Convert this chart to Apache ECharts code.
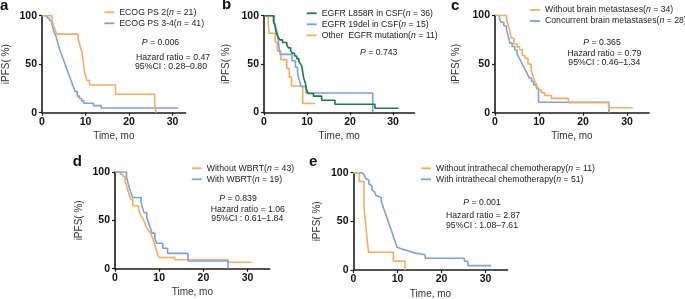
<!DOCTYPE html>
<html><head><meta charset="utf-8">
<script src="https://cdn.jsdelivr.net/npm/echarts@6/dist/echarts.min.js"></script>
<style>html,body{margin:0;padding:0;background:#fff}#c{width:685px;height:299px}</style>
</head><body><div id="c"></div>
<script>
// ---------- data (months, % iPFS) ----------
const xTicks = [0, 10, 20, 30];
const yTicks = [0, 50, 100];

// panel a
const aPs2T = [0, 2.3, 2.6, 3.0, 3.4, 8.3, 8.6, 8.9, 9.2, 9.5, 9.7, 10.0, 10.3, 10.9, 16.9, 25.9, 26.2];
const aPs2S = [100, 95.2, 90.5, 85.7, 81.0, 76.2, 71.4, 66.7, 61.9, 52.4, 42.9, 38.1, 33.3, 28.6, 19.0, 9.5, 0];
const aPs34T = [0, 1.2, 1.7, 2.2, 2.5, 2.8, 3.1, 3.4, 3.7, 4.0, 4.4, 4.8, 5.2, 5.6, 6.0, 6.4, 6.8, 7.2, 7.6, 8.1, 8.6, 9.1, 9.6, 11.8, 13.6, 31.3];
const aPs34S = [100, 97.6, 95.1, 92.7, 87.8, 82.9, 80.5, 75.6, 70.7, 65.9, 61.0, 56.1, 51.2, 46.3, 41.5, 36.6, 31.7, 26.8, 22.0, 17.1, 14.6, 12.2, 9.8, 7.3, 4.9, 4.9];

// panel b
const bL858T = [0, 2.2, 2.4, 2.6, 2.8, 3.0, 3.3, 3.7, 4.3, 5.3, 5.7, 6.2, 6.6, 7.1, 7.6, 8.1, 8.5, 8.8, 9.0, 9.2, 9.4, 9.6, 9.8, 10.0, 10.3, 11.5, 13.4, 16.5, 25.8, 31.3];
const bL858S = [100, 94.4, 91.7, 88.9, 83.3, 80.6, 77.8, 75.0, 72.2, 69.4, 66.7, 63.9, 61.1, 58.3, 55.6, 52.8, 50.0, 47.2, 41.7, 36.1, 33.3, 30.6, 25.0, 22.2, 19.4, 16.7, 12.5, 8.3, 4.2, 4.2];
const b19delT = [0, 2.4, 2.8, 3.2, 3.5, 3.8, 6.5, 7.3, 7.8, 8.2, 8.6, 9.8, 25.3];
const b19delS = [100, 93.3, 86.7, 80.0, 66.7, 60.0, 53.3, 46.7, 40.0, 33.3, 26.7, 20.0, 0];
const bOtherT = [0, 1.0, 1.2, 2.6, 3.1, 3.9, 5.3, 5.9, 6.4, 9.0, 11.9];
const bOtherS = [100, 90.9, 81.8, 72.7, 63.6, 54.5, 45.5, 36.4, 27.3, 9.1, 9.1];

// panel c
const cWithoutT = [0, 2.6, 2.9, 3.3, 3.7, 4.3, 5.0, 5.6, 6.2, 6.8, 7.5, 8.2, 8.6, 9.0, 9.4, 9.8, 10.5, 11.3, 12.8, 16.7, 25.8, 31.3];
const cWithoutS = [100, 97.1, 91.2, 85.3, 76.5, 70.6, 67.6, 64.7, 58.8, 55.9, 50.0, 44.1, 38.2, 32.4, 29.4, 23.5, 20.6, 17.6, 14.7, 10.3, 5.1, 5.1];
const cConcT = [0, 1.0, 1.4, 2.0, 2.6, 3.0, 3.4, 3.9, 4.5, 5.0, 5.4, 5.8, 6.2, 6.6, 7.0, 7.4, 7.8, 8.3, 8.8, 9.4, 9.9, 25.9];
const cConcS = [100, 96.4, 92.9, 89.3, 85.7, 78.6, 71.4, 67.9, 64.3, 60.7, 57.1, 53.6, 50.0, 46.4, 42.9, 39.3, 35.7, 32.1, 28.6, 25.0, 10.7, 0];

// panel d
const dWithoutT = [0, 1.2, 1.8, 2.3, 2.6, 2.9, 3.2, 3.5, 4.0, 5.3, 5.6, 6.0, 6.4, 6.8, 7.2, 7.6, 8.0, 8.4, 8.8, 9.1, 9.4, 9.7, 10.0, 13.5, 25.5, 31.0];
const dWithoutS = [100, 97.7, 95.3, 90.7, 86.0, 81.4, 76.7, 72.1, 65.1, 62.8, 58.1, 53.5, 51.2, 46.5, 41.9, 39.5, 37.2, 32.6, 27.9, 23.3, 18.6, 14.0, 11.6, 9.3, 6.6, 6.6];
const dWithT = [0, 2.6, 2.9, 3.2, 3.6, 4.0, 5.9, 6.2, 6.6, 7.2, 7.6, 8.0, 8.4, 9.0, 9.4, 10.8, 11.9, 16.5, 25.6];
const dWithS = [100, 94.7, 89.5, 84.2, 78.9, 73.7, 68.4, 63.2, 57.9, 52.6, 47.4, 42.1, 36.8, 31.6, 26.3, 21.1, 15.8, 7.9, 0];

// panel e
const eWithoutT = [0, 1.3, 2.4, 2.6, 2.8, 3.0, 3.4, 9.05, 11.7];
const eWithoutS = [100, 90.9, 63.6, 54.5, 45.5, 36.4, 18.2, 9.1, 0];
const eWithT = [0, 1.9, 2.4, 2.8, 3.2, 3.5, 3.9, 4.2, 4.5, 4.8, 5.1, 5.5, 6.3, 6.6, 6.9, 7.2, 7.5, 7.8, 8.1, 8.4, 8.7, 9.0, 9.3, 9.6, 9.9, 10.3, 11.0, 12.5, 13.8, 16.3, 25.2, 26.0, 31.3];
const eWithS = [100, 98.0, 96.1, 94.1, 92.2, 88.2, 86.3, 82.4, 80.4, 78.4, 76.5, 74.5, 70.6, 66.7, 62.7, 58.8, 54.9, 51.0, 47.1, 43.1, 39.2, 35.3, 31.4, 27.5, 23.5, 21.6, 19.6, 17.6, 15.7, 12.0, 9.0, 4.5, 4.5];

// legend names
const aNames = ['ECOG PS 2(n = 21)', 'ECOG PS 3-4(n = 41)'];
const bNames = ['EGFR L858R in CSF(n = 36)', 'EGFR 19del in CSF(n = 15)', 'Other  EGFR mutation(n = 11)'];
const cNames = ['Without brain metastases(n = 34)', 'Concurrent brain metastases(n = 28)'];
const dNames = ['Without WBRT(n = 43)', 'With WBRT(n = 19)'];
const eNames = ['Without intrathecal chemotherapy(n = 11)', 'With intrathecal chemotherapy(n = 51)'];

// statistics text
const aStats = ['P = 0.006', 'Hazard ratio = 0.47', '95%CI : 0.28\u20130.80'];
const bStats = ['P = 0.743'];
const cStats = ['P = 0.365', 'Hazard ratio = 0.79', '95%CI : 0.46\u20131.34'];
const dStats = ['P = 0.839', 'Hazard ratio = 1.06', '95%CI : 0.61\u20131.84'];
const eStats = ['P = 0.001', 'Hazard ratio = 2.87', '95%CI : 1.08\u20137.61'];

const panelLetters = ['a', 'b', 'c', 'd', 'e'];

// ---------- styling / layout ----------
const ORANGE = '#f4ad63', BLUE = '#7da2d8', GREEN = '#1b7a48';
const FONT = '"Liberation Sans", Arial, Helvetica, sans-serif';
const TXT = '#222';
const FS = 8.7;

// series entries: [name, times, survival, colour, z]
const panels = [
  {grid:{left:42, top:15.7, width:143.6, height:97}, xmax:33, yGap:31,
   series:[[aNames[0], aPs2T, aPs2S, ORANGE, 3],[aNames[1], aPs34T, aPs34S, BLUE, 2]],
   legend:{left:104.3, top:7.8}, stats:aStats, statPos:[[141.7,43.3],[136,57.7],[135,66.7]], letter:[0,6]},
  {grid:{left:264, top:15.7, width:150.5, height:96.6}, xmax:35, yGap:33,
   series:[[bNames[0], bL858T, bL858S, GREEN, 4],[bNames[1], b19delT, b19delS, BLUE, 3],[bNames[2], bOtherT, bOtherS, ORANGE, 2]],
   legend:{left:306.7, top:8.8}, stats:bStats, statPos:[[360,53.3]], letter:[222,5]},
  {grid:{left:495, top:15.3, width:154, height:97.4}, xmax:35, yGap:34,
   series:[[cNames[0], cWithoutT, cWithoutS, ORANGE, 3],[cNames[1], cConcT, cConcS, BLUE, 2]],
   legend:{left:530, top:5.5}, stats:cStats, statPos:[[583.3,42.7],[567.3,54],[568.3,63.3]], letter:[451,6]},
  {grid:{left:115, top:172, width:154.7, height:96.7}, xmax:35, yGap:31,
   series:[[dNames[0], dWithoutT, dWithoutS, ORANGE, 2],[dNames[1], dWithT, dWithS, BLUE, 3]],
   legend:{left:191.7, top:163.8}, stats:dStats, statPos:[[219.3,199.5],[210.7,210],[211.3,219]], letter:[72.7,162]},
  {grid:{left:353.5, top:172.7, width:154, height:97.3}, xmax:35, yGap:31.5,
   series:[[eNames[0], eWithoutT, eWithoutS, ORANGE, 3],[eNames[1], eWithT, eWithS, BLUE, 2]],
   legend:{left:421, top:163.8}, stats:eStats, statPos:[[463.3,203.3],[446,216],[446,225.7]], letter:[309,162.5]}
];

const AX = '#1a1a1a';
const option = {
  animation:false,
  backgroundColor:'#fff',
  textStyle:{fontFamily:FONT},
  grid: panels.map(p => Object.assign({outerBoundsMode:'none', containLabel:false}, p.grid)),
  xAxis: panels.map((p,i) => ({
    gridIndex:i, type:'value', min:0, max:p.xmax, interval:10,
    axisLine:{show:true, onZero:false, lineStyle:{color:AX, width:1.6}},
    axisTick:{show:true, length:3, customValues:xTicks, lineStyle:{color:AX, width:1.2}},
    axisLabel:{customValues:xTicks, fontWeight:'bold', fontSize:10.5, color:'#111', margin:4, fontFamily:FONT},
    splitLine:{show:false},
    name:'Time, mo', nameLocation:'middle', nameGap:19,
    nameTextStyle:{fontSize:10, color:'#333', fontFamily:FONT}
  })),
  yAxis: panels.map((p,i) => ({
    gridIndex:i, type:'value', min:0, max:100, interval:50,
    axisLine:{show:true, onZero:false, lineStyle:{color:AX, width:1.6}},
    axisTick:{show:true, length:3, customValues:yTicks, lineStyle:{color:AX, width:1.2}},
    axisLabel:{customValues:yTicks, fontWeight:'bold', fontSize:10.5, color:'#111', margin:5, fontFamily:FONT},
    splitLine:{show:false},
    name:'iPFS( %)', nameLocation:'middle', nameGap:p.yGap, nameRotate:90,
    nameTextStyle:{fontSize:10, color:'#333', fontFamily:FONT}
  })),
  legend: panels.map(p => ({
    data:p.series.map(s => s[0]), orient:'vertical', left:p.legend.left, top:p.legend.top,
    itemWidth:10, itemHeight:1.8, icon:'rect', itemGap:2, padding:0, selectedMode:false,
    formatter: n => n.replace('(n =', '({i|n} ='),
    textStyle:{fontSize:FS, lineHeight:9, color:TXT, fontFamily:FONT,
      rich:{i:{fontSize:FS, fontStyle:'italic', color:TXT, fontFamily:FONT}}}
  })),
  series: [],
  graphic: []
};

panels.forEach((p,i) => {
  p.series.forEach(s => {
    option.series.push({
      name:s[0], type:'line', xAxisIndex:i, yAxisIndex:i, step:'end', z:s[4],
      showSymbol:false, symbol:'none', silent:true,
      color:s[3], lineStyle:{color:s[3], width:1.6},
      data:s[1].map((t,k) => [t, s[2][k]])
    });
  });
  p.stats.forEach((txt,k) => {
    const pos = p.statPos[k];
    const isP = txt.startsWith('P ');
    option.graphic.push({type:'text', left:pos[0], top:pos[1]-5, silent:true,
      style: isP
        ? {text:'{i|P}' + txt.slice(1), fill:TXT, fontSize:FS, fontFamily:FONT,
           rich:{i:{fontSize:FS, fontFamily:FONT, fontStyle:'italic', fill:TXT}}}
        : {text:txt, fill:TXT, fontSize:FS, fontFamily:FONT}});
  });
  option.graphic.push({type:'text', left:p.letter[0], top:p.letter[1]-8, silent:true,
    style:{text:panelLetters[i], fill:'#111', fontSize:15, fontWeight:'bold', fontFamily:FONT}});
});

const chart = echarts.init(document.getElementById('c'), null, {renderer:'canvas'});
chart.setOption(option);
</script></body></html>
